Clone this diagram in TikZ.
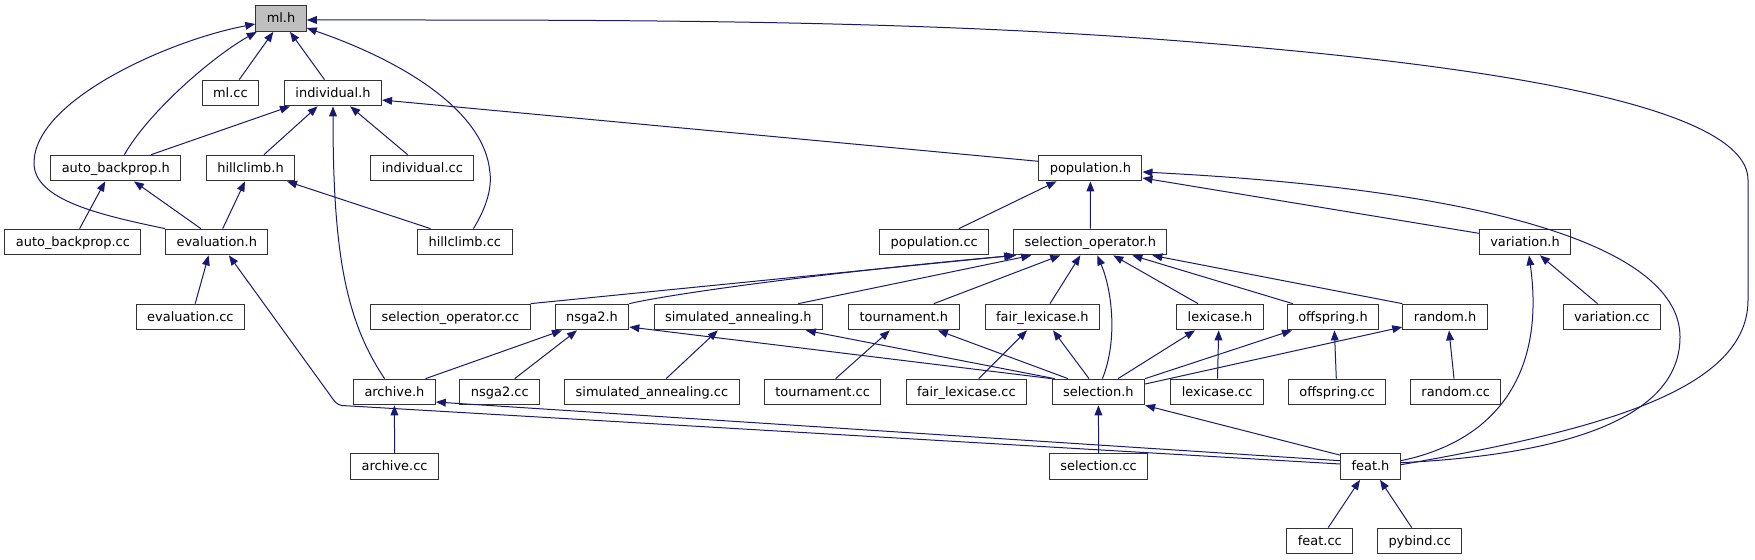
\documentclass[tikz,border=0pt]{standalone}
\usepackage{fontspec}
\setmainfont{DejaVu Sans}
\usepackage{tikz}
\usetikzlibrary{arrows.meta, calc}
\definecolor{edgeblue}{HTML}{191970}
\definecolor{rootgray}{HTML}{BFBFBF}

\begin{document}
\begin{tikzpicture}[x=0.75pt, y=-0.75pt,
    file/.style={draw=black!80, line width=0.75pt, fill=white,
      inner xsep=8.25pt, inner ysep=0pt, minimum height=19.3pt,
      text height=7.8pt, text depth=1.6pt, font=\fontsize{9.7}{11}\selectfont},
    inc/.style={draw=edgeblue, line width=0.75pt,
      -{Triangle[length=7.5pt, width=5.8pt]}}]
  \useasboundingbox (0,0) rectangle (1755,560);
  % row 1
  \node[file, fill=rootgray] (mlh) at (281,18.5) {ml.h};
  % row 2
  \node[file] (mlcc) at (230.4,93) {ml.cc};
  \node[file] (indh) at (333,93) {individual.h};
  % row 3
  \node[file] (abph) at (115.8,168) {auto\_backprop.h};
  \node[file] (hch) at (250.5,168) {hillclimb.h};
  \node[file] (indcc) at (422.3,168) {individual.cc};
  \node[file] (poph) at (1090.4,168) {population.h};
  % row 4
  \node[file] (abpcc) at (72.9,242) {auto\_backprop.cc};
  \node[file] (evalh) at (216.8,242) {evaluation.h};
  \node[file] (hccc) at (464.8,242) {hillclimb.cc};
  \node[file] (popcc) at (934.2,242) {population.cc};
  \node[file] (selop) at (1090.3,242) {selection\_operator.h};
  \node[file] (varh) at (1525,242) {variation.h};
  % row 5
  \node[file] (evalcc) at (190.4,317) {evaluation.cc};
  \node[file] (selopcc) at (450.4,317) {selection\_operator.cc};
  \node[file] (nsgah) at (592,317) {nsga2.h};
  \node[file] (sah) at (738.3,317) {simulated\_annealing.h};
  \node[file] (tourh) at (903.8,317) {tournament.h};
  \node[file] (flexh) at (1042.3,317) {fair\_lexicase.h};
  \node[file] (lexh) at (1220,317) {lexicase.h};
  \node[file] (offh) at (1333,317) {offspring.h};
  \node[file] (randh) at (1445,317) {random.h};
  \node[file] (varcc) at (1611.8,317) {variation.cc};
  % row 6
  \node[file] (archh) at (394.4,392) {archive.h};
  \node[file] (nsgacc) at (499.8,392) {nsga2.cc};
  \node[file] (sacc) at (651.9,392) {simulated\_annealing.cc};
  \node[file] (tourcc) at (822.6,392) {tournament.cc};
  \node[file] (flexcc) at (966.4,392) {fair\_lexicase.cc};
  \node[file] (selh) at (1098.4,392) {selection.h};
  \node[file] (lexcc) at (1217.1,392) {lexicase.cc};
  \node[file] (offcc) at (1337.1,392) {offspring.cc};
  \node[file] (randcc) at (1455.7,392) {random.cc};
  % row 7
  \node[file] (archcc) at (394.6,466.5) {archive.cc};
  \node[file] (selcc) at (1098.6,466.5) {selection.cc};
  \node[file] (feath) at (1370.5,466.5) {feat.h};
  % row 8
  \node[file] (featcc) at (1319.8,541) {feat.cc};
  \node[file] (pybcc) at (1419.7,541) {pybind.cc};

  % ml.h
  \draw[inc] ($(mlcc.north)+(8.8,0)$) -- ($(mlh.south)+(-7.7,0)$);
  \draw[inc] ($(indh.north)+(-8.5,0)$) -- ($(mlh.south)+(9,0)$);
  \draw[inc] ($(abph.north)+(8.6,0)$) .. controls (150,110) and (215,55) .. ($(mlh.south west)+(1.5,0)$);
  \draw[inc] (evalh.north west) .. controls (100,215) and (34,200) .. (34,163)
    .. controls (34,100) and (170,40) .. ($(mlh.west)+(0,5.5)$);
  \draw[inc] ($(hccc.north)+(8.6,0)$) .. controls (485,210) and (492,190) .. (490,173)
    .. controls (485,110) and (400,60) .. ($(mlh.east)+(0,9.5)$);
  \draw[inc] ($(feath.east)+(0,-1.8)$) .. controls (1600,430) and (1748,390) .. (1748,300)
    -- (1748,180) .. controls (1748,100) and (1450,62) .. (1180,41)
    .. controls (900,19) and (600,20) .. ($(mlh.east)+(0,1.5)$);
  % individual.h
  \draw[inc] ($(abph.north)+(35.4,0)$) -- ($(indh.south)+(-43,0)$);
  \draw[inc] ($(hch.north)+(13.5,0)$) -- ($(indh.south)+(-15.4,0)$);
  \draw[inc] ($(indcc.north)+(-14.7,0)$) -- ($(indh.south)+(17.2,0)$);
  \draw[inc] ($(archh.north)+(-9.8,0)$) .. controls (345,320) and (333,250) .. (indh.south);
  \draw[inc] ($(poph.west)+(0,-6.7)$) -- ($(indh.east)+(0,7)$);
  % auto_backprop.h, hillclimb.h
  \draw[inc] ($(abpcc.north)+(6.7,0)$) -- ($(abph.south)+(-10.6,0)$);
  \draw[inc] ($(evalh.north)+(-15.9,0)$) -- ($(abph.south)+(18.2,0)$);
  \draw[inc] ($(evalh.north)+(5.9,0)$) -- ($(hch.south)+(-5.5,0)$);
  \draw[inc] ($(hccc.north)+(-34.3,0)$) -- ($(hch.south)+(36.5,0)$);
  % evaluation.h
  \draw[inc] ($(evalcc.north)+(4.8,0)$) -- ($(evalh.south)+(-8.2,0)$);
  \draw[inc] ($(feath.west)+(0,-2.5)$) -- (342,405.5) .. controls (337,405) and (334,401) .. (330,395)
    -- ($(evalh.south)+(12.1,0)$);
  % archive.h
  \draw[inc] (archcc.north) -- (archh.south);
  \draw[inc] ($(feath.west)+(0,-5.8)$) -- ($(archh.east)+(0,10)$);
  % population.h
  \draw[inc] ($(popcc.north)+(24.7,0)$) -- ($(poph.south)+(-33.9,0)$);
  \draw[inc] (selop.north) -- (poph.south);
  \draw[inc] ($(varh.west)+(0,-8.7)$) -- ($(poph.east)+(0,10)$);
  \draw[inc] ($(feath.east)+(0,-3.8)$) .. controls (1560,455) and (1680,420) .. (1680,337)
    .. controls (1680,250) and (1500,190) .. ($(poph.east)+(0,4)$);
  % variation.h
  \draw[inc] ($(varcc.north)+(-14.3,0)$) -- ($(varh.south)+(15,0)$);
  \draw[inc] ($(feath.east)+(0,-5.8)$) .. controls (1500,440) and (1545,370) .. ($(varh.south)+(4,0)$);
  % selection_operator.h
  \draw[inc] (selopcc.north east) -- ($(selop.south west)+(1,0)$);
  \draw[inc] (nsgah.north east) .. controls (680,292) and (850,270) .. ($(selop.south west)+(3,0)$);
  \draw[inc] ($(sah.north)+(60,0)$) -- ($(selop.south)+(-59,0)$);
  \draw[inc] ($(tourh.north)+(30,0)$) -- ($(selop.south)+(-30,0)$);
  \draw[inc] ($(flexh.north)+(7.7,0)$) -- ($(selop.south)+(-10,0)$);
  \draw[inc] ($(selh.north)+(4,0)$) .. controls (1118,340) and (1112,290) .. ($(selop.south)+(7,0)$);
  \draw[inc] ($(lexh.north)+(-22,0)$) -- ($(selop.south)+(23,0)$);
  \draw[inc] ($(offh.north)+(-40.3,0)$) -- ($(selop.south)+(42,0)$);
  \draw[inc] (randh.north west) -- ($(selop.south)+(62,0)$);
  % nsga2.h
  \draw[inc] ($(archh.north)+(31.2,0)$) -- ($(nsgah.south)+(-30,0)$);
  \draw[inc] ($(nsgacc.north)+(14.9,0)$) -- ($(nsgah.south)+(-15,0)$);
  \draw[inc] (selh.north west) -- ($(nsgah.east)+(0,10)$);
  % simulated_annealing.h, tournament.h, fair_lexicase.h
  \draw[inc] ($(sacc.north)+(14.2,0)$) -- ($(sah.south)+(-20.5,0)$);
  \draw[inc] ($(selh.north west)+(3,0)$) -- ($(sah.south)+(67.5,0)$);
  \draw[inc] ($(tourcc.north)+(13,0)$) -- ($(tourh.south)+(-14,0)$);
  \draw[inc] ($(selh.north)+(-30.4,0)$) -- ($(tourh.south)+(34,0)$);
  \draw[inc] ($(flexcc.north)+(12.4,0)$) -- ($(flexh.south)+(-15.3,0)$);
  \draw[inc] ($(selh.north)+(-9.4,0)$) -- ($(flexh.south)+(10.7,0)$);
  % lexicase.h, offspring.h, random.h
  \draw[inc] ($(lexcc.north)+(0.4,0)$) -- ($(lexh.south)+(-1.3,0)$);
  \draw[inc] ($(selh.north)+(19.6,0)$) -- ($(lexh.south)+(-25,0)$);
  \draw[inc] ($(offcc.north)+(-0.8,0)$) -- ($(offh.south)+(1.4,0)$);
  \draw[inc] (selh.north east) -- ($(offh.south)+(-41,0)$);
  \draw[inc] ($(randcc.north)+(-1.7,0)$) -- ($(randh.south)+(4,0)$);
  \draw[inc] ($(selh.east)+(0,-8)$) -- ($(randh.west)+(0,10)$);
  % selection.h
  \draw[inc] (selcc.north) -- (selh.south);
  \draw[inc] ($(feath.north west)+(0,2)$) -- (selh.south east);
  % feat.h
  \draw[inc] ($(featcc.north)+(8.4,0)$) -- ($(feath.south)+(-10.5,0)$);
  \draw[inc] ($(pybcc.north)+(-8,0)$) -- ($(feath.south)+(9.5,0)$);
\end{tikzpicture}
\end{document}
